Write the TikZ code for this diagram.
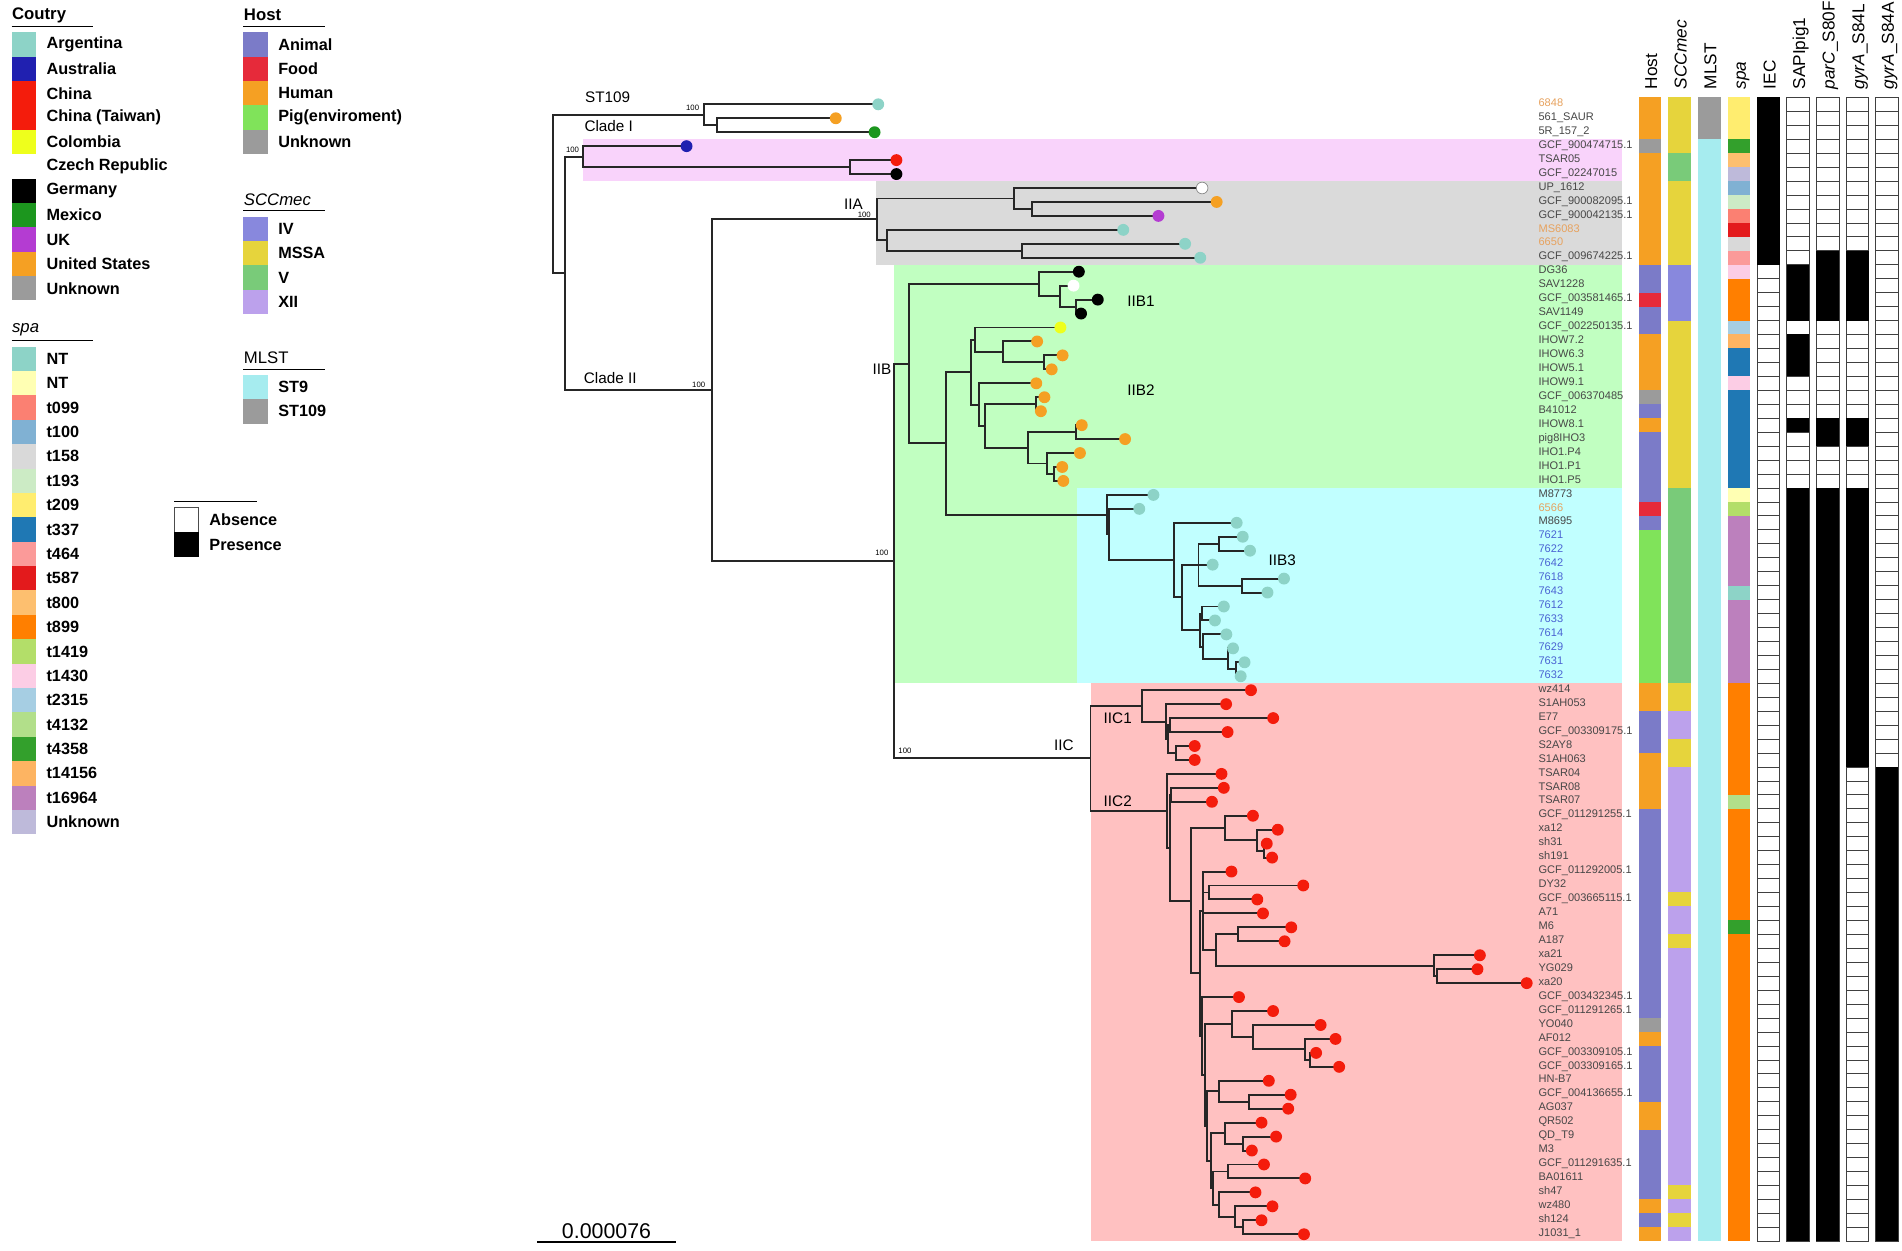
\documentclass[tikz,border=0pt]{standalone}
\usepackage{fontspec}
\setmainfont{Liberation Sans}
\usetikzlibrary{calc}
% country
\definecolor{cArg}{HTML}{8DD3C7}\definecolor{cAus}{HTML}{2020B0}\definecolor{cChn}{HTML}{F41C0C}
\definecolor{cCol}{HTML}{EEFF1C}\definecolor{cMex}{HTML}{1C961E}\definecolor{cUK}{HTML}{B43CD2}
\definecolor{cUS}{HTML}{F5A023}\definecolor{cUnk}{HTML}{9B9B9B}
% host
\definecolor{hAni}{HTML}{7B7BC8}\definecolor{hFood}{HTML}{E62A3A}\definecolor{hHum}{HTML}{F5A023}
\definecolor{hPig}{HTML}{80E35A}
% sccmec / mlst
\definecolor{sIV}{HTML}{8888DD}\definecolor{sMS}{HTML}{E6D43C}\definecolor{sV}{HTML}{79CB79}\definecolor{sXII}{HTML}{BCA1EC}
\definecolor{mSnine}{HTML}{A6ECEF}
% spa
\definecolor{ntA}{HTML}{8DD3C7}\definecolor{ntB}{HTML}{FFFFB3}\definecolor{tA}{HTML}{FB8072}
\definecolor{tB}{HTML}{80B1D3}\definecolor{tC}{HTML}{D9D9D9}\definecolor{tD}{HTML}{CCEBC5}
\definecolor{tE}{HTML}{FFED6F}\definecolor{tF}{HTML}{1F78B4}\definecolor{tG}{HTML}{FB9A99}
\definecolor{tH}{HTML}{E31A1C}\definecolor{tI}{HTML}{FDBF6F}\definecolor{tJ}{HTML}{FF7F00}
\definecolor{tK}{HTML}{B3DE69}\definecolor{tL}{HTML}{FCCDE5}\definecolor{tM}{HTML}{A6CEE3}
\definecolor{tN}{HTML}{B2DF8A}\definecolor{tO}{HTML}{33A02C}\definecolor{tP}{HTML}{FDB462}
\definecolor{tQ}{HTML}{BC80BD}\definecolor{tR}{HTML}{BEBADA}
% bands and labels
\definecolor{bPink}{HTML}{F9D3FB}\definecolor{bGray}{HTML}{DADADA}\definecolor{bGreen}{HTML}{C1FFC1}
\definecolor{bCyan}{HTML}{C1FFFF}\definecolor{bRed}{HTML}{FFC1C1}
\definecolor{lbOr}{HTML}{E7A25E}\definecolor{lbBl}{HTML}{4A63D3}\definecolor{lbGr}{HTML}{474747}
\newlength\U \setlength\U{0.5pt}
\newcommand\innode[4]{\path let \p1=(#3), \p2=(#4) in coordinate (#1) at ({#2*\U}, {(\y1+\y2)/2});}
\newcommand\kids[2]{\foreach \c in {#2}{\draw[br] (#1) |- (\c);}}
\newcommand\hrun[4]{\fill[#4] ({1351+#1*24.4},{80.25+(#2-1)*11.5}) rectangle ({1369.6+#1*24.4},{80.25+#3*11.5});}
\tikzset{
  br/.style={line width=0.8pt, line cap=rect, black!85},
  tiplab/.style={anchor=base west, inner sep=0pt, font=\fontsize{4.55}{5.2}\selectfont},
  cladelab/.style={inner sep=0pt, font=\fontsize{6.3}{7.5}\selectfont},
  bslab/.style={inner sep=0pt, font=\fontsize{3.2}{3.6}\selectfont},
  legtxt/.style={anchor=west, inner sep=0pt, font=\bfseries\fontsize{6.7}{8}\selectfont},
  legtitle/.style={anchor=west, inner sep=0pt, font=\fontsize{6.9}{8}\selectfont},
  hdr/.style={rotate=90, anchor=west, inner sep=0pt, text height=1.55ex, text depth=0.45ex, font=\fontsize{7.1}{8}\selectfont},
  cellbox/.style={draw=black!75, line width=0.3pt, fill=white}
}
\begin{document}
\begin{tikzpicture}[x=0.5pt,y=-0.5pt]
\useasboundingbox (0,0) rectangle (1568,1031.3);
\fill[white] (0,0) rectangle (1568,1031.3);
% ---------- bands ----------
\fill[bPink] (481,114.5) rectangle (1336.8,149.25);
\fill[bGray] (722,149.25) rectangle (1336.8,218.25);
\fill[bGreen] (737,218.25) rectangle (1336.8,402.25);
\fill[bGreen] (737,402.25) rectangle (888,563.25);
\fill[bCyan] (888,402.25) rectangle (1336.8,563.25);
\fill[bRed] (899,563.25) rectangle (1336.8,1023.25);
% ---------- tips ----------
\foreach \i/\x in {1/724,2/689,3/721,4/566,5/739,6/739,7/991,8/1003,9/955,10/926,11/977,12/989.5,
 13/889.4,14/885,15/905,16/891.2,17/874.2,18/855,19/876,20/867,21/854.3,22/861,23/858.1,24/891.8,
 25/927.5,26/890.3,27/875.7,28/876.6,29/950.9,30/939.2,31/1019.5,32/1024.5,33/1030.5,34/999.7,
 35/1058.5,36/1044.9,37/1008.9,38/1001.6,39/1011,40/1016.5,41/1026,42/1022.8,43/1031.3,44/1010.8,
 45/1049.6,46/1012,47/984.9,48/984.9,49/1007,50/1008.9,51/999.1,52/1032.9,53/1053.4,54/1044.3,
 55/1048.7,56/1015.2,57/1074.4,58/1036.5,59/1041.2,60/1064.5,61/1059,62/1220,63/1218,64/1258.6,
 65/1021.4,66/1049.5,67/1088.7,68/1101,69/1085,70/1104,71/1046,72/1064,73/1062,74/1040,75/1052,
 76/1032,77/1042,78/1076,79/1035,80/1049,81/1040,82/1075}
 {\coordinate (t\i) at (\x,{86+(\i-1)*11.5});}
% ---------- internal nodes ----------
\innode{sA}{590.7}{t2}{t3}
\innode{sT}{580}{t1}{sA}
\innode{cIa}{700.6}{t5}{t6}
\innode{cI}{480.8}{t4}{cIa}
\innode{aV}{850.8}{t8}{t9}
\innode{aU}{836.2}{t7}{aV}
\innode{aX}{842.6}{t11}{t12}
\innode{aW}{731}{t10}{aX}
\innode{IIA}{723}{aU}{aW}
\innode{b1c}{886.8}{t15}{t16}
\innode{b1b}{873.6}{t14}{b1c}
\innode{IIBa}{856.7}{t13}{b1b}
\innode{b2d}{861}{t19}{t20}
\innode{b2c}{827.1}{t18}{b2d}
\innode{b2b}{804}{t17}{b2c}
\innode{b2f}{853.7}{t22}{t23}
\innode{b2h}{887.4}{t24}{t25}
\innode{b2j}{869.2}{t27}{t28}
\innode{b2i}{863.4}{t26}{b2j}
\innode{b2g}{847.3}{b2h}{b2i}
\innode{b2ee}{812.2}{b2f}{b2g}
\innode{b2e}{807.2}{t21}{b2ee}
\innode{b2a}{800.2}{b2b}{b2e}
\innode{bK}{1019}{t41}{t42}
\innode{bJ}{1012.7}{t40}{bK}
\innode{bI}{991.5}{t39}{bJ}
\innode{bH}{990.6}{t37}{t38}
\innode{bG}{989.6}{bH}{bI}
\innode{bE}{1005.3}{t32}{t33}
\innode{bF}{1023.7}{t35}{t36}
\innode{bD}{988}{bE}{bF}
\innode{bCC}{974.2}{bD}{bG}
\innode{bC}{967.9}{t31}{bCC}
\innode{bB}{914.6}{t30}{bC}
\innode{bA}{912.8}{t29}{bB}
\innode{b2z}{779.7}{b2a}{bA}
\innode{IIB}{749.3}{IIBa}{b2z}
\innode{cQ}{969.1}{t47}{t48}
\innode{cP}{964.7}{t45}{t46}
\innode{cPq}{963}{cP}{cQ}
\innode{cb}{961.5}{t44}{cPq}
\innode{IICa}{941.3}{t43}{cb}
\innode{dL3}{1041.7}{t54}{t55}
\innode{dL2}{1036}{t53}{dL3}
\innode{dL}{1010.1}{t52}{dL2}
\innode{dS}{996.9}{t57}{t58}
\innode{dQ}{1020.3}{t60}{t61}
\innode{dX2}{1184.4}{t63}{t64}
\innode{dX}{1182.2}{t62}{dX2}
\innode{dP}{1002.6}{dQ}{dX}
\innode{dN1}{991.8}{t56}{dP}
\innode{eE}{1080}{t69}{t70}
\innode{eD}{1075.8}{t68}{eE}
\innode{eC}{1033.2}{t67}{eD}
\innode{eB}{1015.4}{t66}{eC}
\innode{eF2}{1030}{t72}{t73}
\innode{eF}{1005}{t71}{eF2}
\innode{eH2}{1025}{t75}{t76}
\innode{eH}{1010}{t74}{eH2}
\innode{eJ}{1012}{t77}{t78}
\innode{eK3}{1025}{t81}{t82}
\innode{eK2}{1018}{t80}{eK3}
\innode{eK}{1005}{t79}{eK2}
\innode{eI}{1000}{eJ}{eK}
\innode{eG}{998}{eH}{eI}
\innode{eR}{995}{eF}{eG}
\innode{eA}{993}{eB}{eR}
\innode{dN2}{991}{t65}{eA}
\innode{dN}{989.6}{dN1}{dN2}
\innode{dM}{981.7}{dL}{dN}
\innode{dZ2}{965.5}{t50}{t51}
\innode{dZ1}{964.5}{dZ2}{dM}
\innode{IICb}{962.2}{t49}{dZ1}
\innode{IIC}{899}{IICa}{IICb}
\innode{IIBC}{737}{IIB}{IIC}
\innode{CII}{586.6}{IIA}{IIBC}
\innode{CIJ}{465.5}{cI}{CII}
\innode{root}{456}{sT}{CIJ}
% ---------- branches ----------
\kids{root}{sT,CIJ}
\kids{sT}{t1,sA}\kids{sA}{t2,t3}
\kids{CIJ}{cI,CII}
\kids{cI}{t4,cIa}\kids{cIa}{t5,t6}
\kids{CII}{IIA,IIBC}
\kids{IIA}{aU,aW}\kids{aU}{t7,aV}\kids{aV}{t8,t9}\kids{aW}{t10,aX}\kids{aX}{t11,t12}
\kids{IIBC}{IIB,IIC}
\kids{IIB}{IIBa,b2z}\kids{IIBa}{t13,b1b}\kids{b1b}{t14,b1c}\kids{b1c}{t15,t16}
\kids{b2z}{b2a,bA}\kids{b2a}{b2b,b2e}\kids{b2b}{t17,b2c}\kids{b2c}{t18,b2d}\kids{b2d}{t19,t20}
\kids{b2e}{t21,b2ee}\kids{b2ee}{b2f,b2g}\kids{b2f}{t22,t23}\kids{b2g}{b2h,b2i}\kids{b2h}{t24,t25}
\kids{b2i}{t26,b2j}\kids{b2j}{t27,t28}
\kids{bA}{t29,bB}\kids{bB}{t30,bC}\kids{bC}{t31,bCC}\kids{bCC}{bD,bG}\kids{bD}{bE,t34,bF}
\kids{bE}{t32,t33}\kids{bF}{t35,t36}\kids{bG}{bH,bI}\kids{bH}{t37,t38}\kids{bI}{t39,bJ}
\kids{bJ}{t40,bK}\kids{bK}{t41,t42}
\kids{IIC}{IICa,IICb}\kids{IICa}{t43,cb}\kids{cb}{t44,cPq}\kids{cPq}{cP,cQ}\kids{cP}{t45,t46}\kids{cQ}{t47,t48}
\kids{IICb}{t49,dZ1}\kids{dZ1}{dZ2,dM}\kids{dZ2}{t50,t51}\kids{dM}{dL,dN}
\kids{dL}{t52,dL2}\kids{dL2}{t53,dL3}\kids{dL3}{t54,t55}
\kids{dN}{dN1,dN2}\kids{dN1}{t56,dS,t59,dP}\kids{dS}{t57,t58}\kids{dP}{dQ,dX}\kids{dQ}{t60,t61}
\kids{dX}{t62,dX2}\kids{dX2}{t63,t64}
\kids{dN2}{t65,eA}\kids{eA}{eB,eR}\kids{eB}{t66,eC}\kids{eC}{t67,eD}\kids{eD}{t68,eE}\kids{eE}{t69,t70}
\kids{eR}{eF,eG}\kids{eF}{t71,eF2}\kids{eF2}{t72,t73}\kids{eG}{eH,eI}\kids{eH}{t74,eH2}\kids{eH2}{t75,t76}
\kids{eI}{eJ,eK}\kids{eJ}{t77,t78}\kids{eK}{t79,eK2}\kids{eK2}{t80,eK3}\kids{eK3}{t81,t82}
% ---------- tip dots ----------
\foreach \i/\col in {1/cArg,2/cUS,3/cMex,4/cAus,5/cChn,6/black,8/cUS,9/cUK,10/cArg,11/cArg,12/cArg,
 13/black,15/black,16/black,17/cCol,18/cUS,19/cUS,20/cUS,21/cUS,22/cUS,23/cUS,24/cUS,25/cUS,26/cUS,27/cUS,28/cUS}
 {\fill[\col] (t\i) circle[radius=4.9];}
\foreach \i in {29,...,42}{\fill[cArg] (t\i) circle[radius=4.9];}
\foreach \i in {43,...,82}{\fill[cChn] (t\i) circle[radius=4.9];}
\filldraw[fill=white, draw=black!45, line width=0.3pt] (t7) circle[radius=4.8];
\fill[white] (t14) circle[radius=4.9];
% ---------- clade labels ----------
\node[cladelab, anchor=west] (lST) at (482,80) {ST109};
\node[cladelab, anchor=west] (lCI) at (481.5,103.5) {Clade I};
\node[cladelab, anchor=west] (lCII) at (481,312) {Clade II};
\node[cladelab] (lIIA) at (703.5,168.5) {IIA};
\node[cladelab] (lIIB) at (727,304.5) {IIB};
\node[cladelab, anchor=west] (lIIBa) at (929,248.5) {IIB1};
\node[cladelab, anchor=west] (lIIBb) at (929,322) {IIB2};
\node[cladelab, anchor=west] (lIIBc) at (1045.5,461.5) {IIB3};
\node[cladelab] (lIIC) at (877,614.5) {IIC};
\node[cladelab, anchor=west] (lIICa) at (909.5,592) {IIC1};
\node[cladelab, anchor=west] (lIICb) at (909.5,660.5) {IIC2};
% bootstrap
\node[bslab] (bs1) at (571,89) {100};
\node[bslab] (bs2) at (472,123.5) {100};
\node[bslab] (bs3) at (712.5,177) {100};
\node[bslab] (bs4) at (576,317) {100};
\node[bslab] (bs5) at (727,456) {100};
\node[bslab] (bs6) at (746,619) {100};
% ---------- tip labels ----------
\foreach \i/\lab/\col in {1/6848/lbOr,2/561\_SAUR/lbGr,3/5R\_157\_2/lbGr,4/GCF\_900474715.1/lbGr,
 5/TSAR05/lbGr,6/GCF\_02247015/lbGr,7/UP\_1612/lbGr,8/GCF\_900082095.1/lbGr,9/GCF\_900042135.1/lbGr,
 10/MS6083/lbOr,11/6650/lbOr,12/GCF\_009674225.1/lbGr,13/DG36/lbGr,14/SAV1228/lbGr,
 15/GCF\_003581465.1/lbGr,16/SAV1149/lbGr,17/GCF\_002250135.1/lbGr,18/IHOW7.2/lbGr,19/IHOW6.3/lbGr,
 20/IHOW5.1/lbGr,21/IHOW9.1/lbGr,22/GCF\_006370485/lbGr,23/B41012/lbGr,24/IHOW8.1/lbGr,
 25/pig8IHO3/lbGr,26/IHO1.P4/lbGr,27/IHO1.P1/lbGr,28/IHO1.P5/lbGr,29/M8773/lbGr,30/6566/lbOr,
 31/M8695/lbGr,32/7621/lbBl,33/7622/lbBl,34/7642/lbBl,35/7618/lbBl,36/7643/lbBl,37/7612/lbBl,
 38/7633/lbBl,39/7614/lbBl,40/7629/lbBl,41/7631/lbBl,42/7632/lbBl,43/wz414/lbGr,44/S1AH053/lbGr,
 45/E77/lbGr,46/GCF\_003309175.1/lbGr,47/S2AY8/lbGr,48/S1AH063/lbGr,49/TSAR04/lbGr,50/TSAR08/lbGr,
 51/TSAR07/lbGr,52/GCF\_011291255.1/lbGr,53/xa12/lbGr,54/sh31/lbGr,55/sh191/lbGr,
 56/GCF\_011292005.1/lbGr,57/DY32/lbGr,58/GCF\_003665115.1/lbGr,59/A71/lbGr,60/M6/lbGr,61/A187/lbGr,
 62/xa21/lbGr,63/YG029/lbGr,64/xa20/lbGr,65/GCF\_003432345.1/lbGr,66/GCF\_011291265.1/lbGr,
 67/YO040/lbGr,68/AF012/lbGr,69/GCF\_003309105.1/lbGr,70/GCF\_003309165.1/lbGr,71/HN-B7/lbGr,
 72/GCF\_004136655.1/lbGr,73/AG037/lbGr,74/QR502/lbGr,75/QD\_T9/lbGr,76/M3/lbGr,
 77/GCF\_011291635.1/lbGr,78/BA01611/lbGr,79/sh47/lbGr,80/wz480/lbGr,81/sh124/lbGr,82/J1031\_1/lbGr}
 {\node[tiplab, text=\col] (lab\i) at (1268,{86+(\i-1)*11.5+1.8}) {\lab};}
% ---------- heatmap headers ----------
\foreach \k/\lab in {0/Host,1/\textit{SCCmec},2/MLST,3/\textit{spa},4/IEC,5/SAPIpig1,
 6/\textit{parC}\_S80F,7/\textit{gyrA}\_S84L,8/\textit{gyrA}\_S84A}
 {\node[hdr] (hd\k) at ({1360.3+\k*24.4},74) {\lab};}
% Host
\foreach \a/\b/\c in {1/3/hHum,4/4/cUnk,5/12/hHum,13/14/hAni,15/15/hFood,16/17/hAni,18/21/hHum,
 22/22/cUnk,23/23/hAni,24/24/hHum,25/29/hAni,30/30/hFood,31/31/hAni,32/42/hPig,43/44/hHum,
 45/47/hAni,48/51/hHum,52/66/hAni,67/67/cUnk,68/68/hHum,69/72/hAni,73/74/hHum,75/79/hAni,
 80/80/hHum,81/81/hAni,82/82/hHum}{\hrun{0}{\a}{\b}{\c}}
% SCCmec
\foreach \a/\b/\c in {1/4/sMS,5/6/sV,7/12/sMS,13/16/sIV,17/28/sMS,29/42/sV,43/44/sMS,45/46/sXII,
 47/48/sMS,49/57/sXII,58/58/sMS,59/60/sXII,61/61/sMS,62/78/sXII,79/79/sMS,80/80/sXII,81/81/sMS,
 82/82/sXII}{\hrun{1}{\a}{\b}{\c}}
% MLST
\hrun{2}{1}{3}{cUnk}\hrun{2}{4}{82}{mSnine}
% spa
\foreach \a/\b/\c in {1/3/tE,4/4/tO,5/5/tI,6/6/tR,7/7/tB,8/8/tD,9/9/tA,10/10/tH,11/11/tC,12/12/tG,
 13/13/tL,14/16/tJ,17/17/tM,18/18/tP,19/20/tF,21/21/tL,22/28/tF,29/29/ntB,30/30/tK,31/35/tQ,
 36/36/ntA,37/42/tQ,43/50/tJ,51/51/tN,52/59/tJ,60/60/tO,61/82/tJ}{\hrun{3}{\a}{\b}{\c}}
% binary columns
\foreach \k in {4,...,8}{\foreach \r in {1,...,82}{
 \draw[cellbox] ({1351+\k*24.4},{80.25+(\r-1)*11.5}) rectangle ({1369.6+\k*24.4},{80.25+\r*11.5});}}
\foreach \k/\a/\b in {4/1/12,5/13/16,5/18/20,5/24/24,5/29/82,6/12/16,6/24/25,6/29/82,
 7/12/16,7/24/25,7/29/48,8/49/82}{\hrun{\k}{\a}{\b}{black}}
% ---------- scale bar ----------
\coordinate (sbL) at (443,1024);
\coordinate (sbR) at (557,1024);
\draw[line width=0.6pt] (sbL) -- (sbR);
\node[inner sep=0pt, font=\fontsize{8.8}{10}\selectfont] (sbT) at (500,1015) {0.000076};
% ---------- legends ----------
\node[legtitle, font=\bfseries\fontsize{6.9}{8}\selectfont] (legC) at (9.6,12.4) {Coutry};
\draw[line width=0.5pt] (9.6,22) -- (77,22);
\foreach \k/\lab/\col in {0/Argentina/cArg,1/Australia/cAus,2/China/cChn,3/China (Taiwan)/cChn,
 4/Colombia/cCol,5/Czech Republic/white,6/Germany/black,7/Mexico/cMex,8/UK/cUK,9/United States/cUS,10/Unknown/cUnk}
 {\fill[\col] (9.6,{26.6+\k*20.1}) rectangle (29.7,{46.7+\k*20.1});
  \node[legtxt] at (38,{36.65+\k*20.1}) {\lab};}
\node[legtitle, font=\itshape\fontsize{6.9}{8}\selectfont] (legS) at (9.6,272) {spa};
\draw[line width=0.5pt] (9.6,281) -- (77,281);
\foreach \k/\lab/\col in {0/NT/ntA,1/NT/ntB,2/t099/tA,3/t100/tB,4/t158/tC,5/t193/tD,6/t209/tE,
 7/t337/tF,8/t464/tG,9/t587/tH,10/t800/tI,11/t899/tJ,12/t1419/tK,13/t1430/tL,14/t2315/tM,
 15/t4132/tN,16/t4358/tO,17/t14156/tP,18/t16964/tQ,19/Unknown/tR}
 {\fill[\col] (9.6,{285.8+\k*20.1}) rectangle (29.7,{305.9+\k*20.1});
  \node[legtxt] at (38,{295.85+\k*20.1}) {\lab};}
\node[legtitle, font=\bfseries\fontsize{6.9}{8}\selectfont] (legH) at (200.7,12.4) {Host};
\draw[line width=0.5pt] (200.7,22) -- (268,22);
\foreach \k/\lab/\col in {0/Animal/hAni,1/Food/hFood,2/Human/hHum,3/Pig(enviroment)/hPig,4/Unknown/cUnk}
 {\fill[\col] (200.7,{26.6+\k*20.1}) rectangle (220.8,{46.7+\k*20.1});
  \node[legtxt] at (229,{36.65+\k*20.1}) {\lab};}
\node[legtitle, font=\itshape\fontsize{6.9}{8}\selectfont] (legSC) at (200.7,165) {SCCmec};
\draw[line width=0.5pt] (200.7,173.7) -- (268,173.7);
\foreach \k/\lab/\col in {0/IV/sIV,1/MSSA/sMS,2/V/sV,3/XII/sXII}
 {\fill[\col] (200.7,{178.6+\k*20.1}) rectangle (220.8,{198.7+\k*20.1});
  \node[legtxt] at (229,{188.65+\k*20.1}) {\lab};}
\node[legtitle] (legM) at (200.7,295) {MLST};
\draw[line width=0.5pt] (200.7,304.5) -- (268,304.5);
\foreach \k/\lab/\col in {0/ST9/mSnine,1/ST109/cUnk}
 {\fill[\col] (200.7,{309+\k*20.1}) rectangle (220.8,{329.1+\k*20.1});
  \node[legtxt] at (229,{319.05+\k*20.1}) {\lab};}
\draw[line width=0.5pt] (143.7,413.6) -- (211.6,413.6);
\draw[line width=0.4pt, draw=black!70, fill=white] (143.7,418.6) rectangle (164,438.9);
\fill[black] (143.7,438.9) rectangle (164,459);
\node[legtxt] (legAb) at (172.3,428.7) {Absence};
\node[legtxt] (legPr) at (172.3,449) {Presence};
\end{tikzpicture}
\end{document}
